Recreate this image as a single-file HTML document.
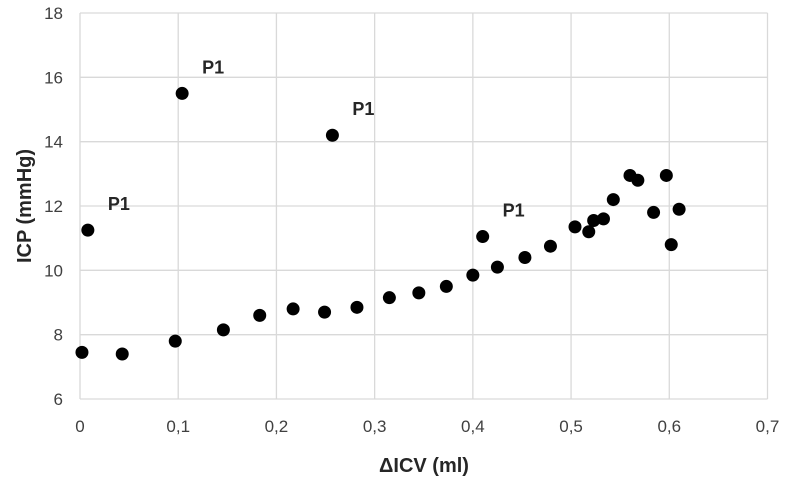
<!DOCTYPE html>
<html><head><meta charset="utf-8"><style>
body{margin:0;background:#fff;}
svg{display:block;font-family:"Liberation Sans",sans-serif;}
</style></head><body>
<svg id="c" width="788" height="483"></svg>
<script>
const xs=[0.002,0.043,0.097,0.104,0.008,0.146,0.183,0.217,0.249,0.257,0.282,0.315,0.345,0.373,0.4,0.41,0.425,0.453,0.479,0.504,0.518,0.523,0.533,0.543,0.56,0.568,0.584,0.597,0.602,0.61];
const ys=[7.45,7.4,7.8,15.5,11.25,8.15,8.6,8.8,8.7,14.2,8.85,9.15,9.3,9.5,9.85,11.05,10.1,10.4,10.75,11.35,11.2,11.55,11.6,12.2,12.95,12.8,11.8,12.95,10.8,11.9];
const xTicks=[0,0.1,0.2,0.3,0.4,0.5,0.6,0.7];
const xTickLabels=["0","0,1","0,2","0,3","0,4","0,5","0,6","0,7"];
const yTicks=[6,8,10,12,14,16,18];
const annX=[0.008,0.104,0.257,0.41];
const annY=[11.25,15.5,14.2,11.05];
const annText=["P1","P1","P1","P1"];
const NS="http://www.w3.org/2000/svg";
const svg=document.getElementById('c');
const X=v=>80+v/0.7*(767.5-80);
const Y=v=>399-(v-6)/12*(399-13);
function mk(t,a){const e=document.createElementNS(NS,t);for(const k in a)e.setAttribute(k,a[k]);svg.appendChild(e);return e;}
xTicks.forEach((v,i)=>{
 const l=mk('line',{x1:X(v),x2:X(v),y1:13,y2:399,stroke:'#d9d9d9','stroke-width':1.3});
 
 
 const t=mk('text',{x:X(v),y:432,'text-anchor':'middle','font-size':17,fill:'#404040'});
 t.textContent=xTickLabels[i];
 
 
});
yTicks.forEach(v=>{
 const l=mk('line',{x1:80,x2:767.5,y1:Y(v),y2:Y(v),stroke:'#d9d9d9','stroke-width':1.3});
 
 
 const t=mk('text',{x:63,y:Y(v)+6,'text-anchor':'end','font-size':17,fill:'#404040'});
 t.textContent=v;
 
 
});
xs.forEach((v,i)=>{
 const c=mk('circle',{cx:X(v),cy:Y(ys[i]),r:6.5,fill:'#000'});
 
 
});
annX.forEach((v,i)=>{
 const t=mk('text',{x:X(v)+20,y:Y(annY[i])-20,'font-size':18,'font-weight':'bold',fill:'#262626'});
 t.textContent=annText[i];
 
 
});
const xt=mk('text',{x:424,y:472,'text-anchor':'middle','font-size':20,'font-weight':'bold',fill:'#262626'});
xt.textContent='ΔICV (ml)';


const yt=mk('text',{x:0,y:0,'text-anchor':'middle','font-size':20,'font-weight':'bold',fill:'#262626',transform:'translate(31,206) rotate(-90)'});
yt.textContent='ICP (mmHg)';


</script>
</body></html>
